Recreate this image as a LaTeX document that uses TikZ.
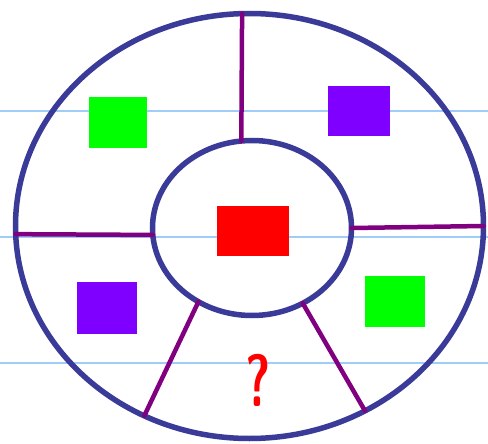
\documentclass[tikz,border=0pt]{standalone}
\usepackage{xcolor}
\usepackage{tikz}
\usetikzlibrary{shapes.geometric}

\definecolor{ringblue}{HTML}{3A3A98}
\definecolor{spoke}{HTML}{800080}
\definecolor{ruleblue}{HTML}{A0CCF8}
\definecolor{sqgreen}{HTML}{00FF00}
\definecolor{sqviolet}{HTML}{8000FF}
\definecolor{sqred}{HTML}{FF0000}

\begin{document}
\begin{tikzpicture}[
  x=1pt, y=-1pt,
  ring/.style={draw=ringblue,line width=5.5pt,ellipse,inner sep=0pt,outer sep=0pt},
  spokeline/.style={draw=spoke,line width=4.5pt,line cap=round},
  ruling/.style={draw=ruleblue,line width=1.2pt},
  tile/.style={draw=none,inner sep=0pt,outer sep=0pt}
]
\useasboundingbox (0,0) rectangle (488,444);
% notebook lines
\foreach \yy in {111,237,363}
  \draw[ruling] (0,\yy) -- (488,\yy);

\node[ring,minimum width=468pt,minimum height=425pt] (outer) at (249.5,226) {};
\node[ring,minimum width=199pt,minimum height=175pt] (inner) at (252,228) {};

\draw[spokeline] (inner.97.4) -- (outer.92.8);
\draw[spokeline] (inner.184.4) -- (outer.182.4);
\draw[spokeline] (inner.0) -- (outer.0.2);
\draw[spokeline] (inner.234) -- (outer.241.2);
\draw[spokeline] (inner.304.8) -- (outer.302.8);

\node[tile,fill=sqgreen,minimum width=58pt,minimum height=51pt] (greenA) at (118,122.5) {};
\node[tile,fill=sqviolet,minimum width=62pt,minimum height=50pt] (violetA) at (359,111) {};
\node[tile,fill=sqred,minimum width=72pt,minimum height=50pt] (centre) at (253,231) {};
\node[tile,fill=sqviolet,minimum width=60pt,minimum height=52pt] (violetB) at (107,308) {};
\node[tile,fill=sqgreen,minimum width=60pt,minimum height=51pt] (greenB) at (395,301.5) {};

\node[text=sqred,inner sep=0pt,font=\sffamily\bfseries\fontsize{74}{74}\selectfont] (missing) at (258.5,380) {\scalebox{0.66}[1]{?}};
\end{tikzpicture}
\end{document}
